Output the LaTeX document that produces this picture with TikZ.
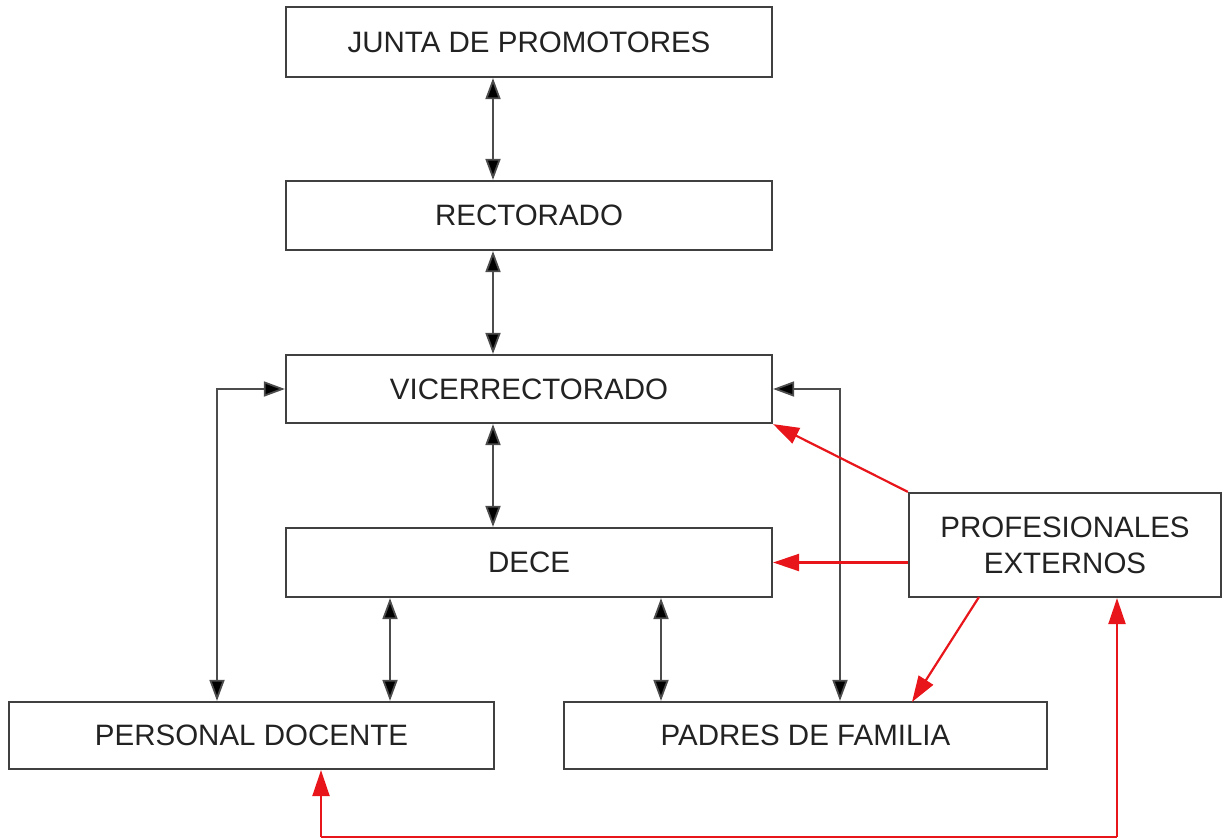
\documentclass[tikz,border=0pt]{standalone}
\usepackage{fontspec}
\setmainfont{Liberation Sans}
\usetikzlibrary{arrows.meta}
\definecolor{boxline}{HTML}{404040}
\definecolor{txt}{HTML}{222222}
\definecolor{redline}{HTML}{E8151B}
\begin{document}
\begin{tikzpicture}[x=1pt,y=-1pt,
  box/.style={draw=boxline,line width=2.2pt,fill=white,inner sep=0pt,text=txt,
    font=\fontsize{29.5}{36}\selectfont,align=center},
  blk/.style={draw=black!70,line width=1.8pt,{Triangle[length=21pt,width=15pt,fill=black]}-{Triangle[length=21pt,width=15pt,fill=black]}},
  red/.style={draw=redline,line width=2.2pt,-{Triangle[length=26pt,width=17pt,fill=redline]}}
]
\useasboundingbox (0,0) rectangle (1227,838);
\node[box,minimum width=486pt,minimum height=70pt] (junta) at (529,42) {JUNTA DE PROMOTORES};
\node[box,minimum width=486pt,minimum height=69pt] (rect) at (529,215.5) {RECTORADO};
\node[box,minimum width=486pt,minimum height=68pt] (vice) at (529,389) {VICERRECTORADO};
\node[box,minimum width=486pt,minimum height=69pt] (dece) at (529,562.5) {DECE};
\node[box,minimum width=312pt,minimum height=104pt] (prof) at (1065,545) {PROFESIONALES\\EXTERNOS};
\node[box,minimum width=485pt,minimum height=67pt] (pers) at (251.5,735.5) {PERSONAL DOCENTE};
\node[box,minimum width=483pt,minimum height=67pt] (padres) at (805.5,735.5) {PADRES DE FAMILIA};

% vertical black arrows
\draw[blk] (junta.south -| 493,0) -- (rect.north -| 493,0);
\draw[blk] (rect.south -| 493,0) -- (vice.north -| 493,0);
\draw[blk] (vice.south -| 493,0) -- (dece.north -| 493,0);
\draw[blk] (dece.south -| 390,0) -- (pers.north -| 390,0);
\draw[blk] (dece.south -| 661,0) -- (padres.north -| 661,0);
% loops
\coordinate (lc) at (217,389);
\coordinate (rc) at (840,389);
\draw[blk] (vice.west) -- (lc) -- (pers.north -| lc);
\draw[blk] (vice.east) -- (rc) -- (padres.north -| rc);

% red arrows
\draw[red] (prof.north west) -- (vice.south east);
\draw[red] (prof.west |- dece.east) -- (dece.east);
\coordinate (pb) at (979,597);
\draw[red] (pb) -- (912,702);
\coordinate (b1) at (321,837);
\coordinate (b2) at (1117,837);
\draw[draw=redline,line width=2.2pt] (b1) -- (b2);
\draw[red] (b1) -- (pers.south -| b1);
\draw[red] (b2) -- (prof.south -| b2);
\end{tikzpicture}
\end{document}
